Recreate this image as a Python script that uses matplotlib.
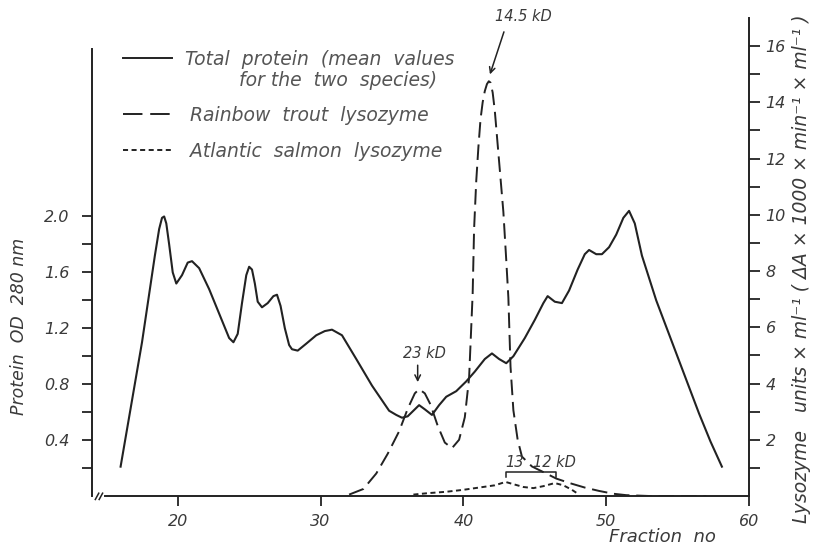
import matplotlib.pyplot as plt
from matplotlib.lines import Line2D


# total protein, OD 280 nm (left axis)
protein_fraction = [16.0, 17.5, 18.4, 18.7, 18.9, 19.05, 19.2, 19.4, 19.65, 19.9, 20.3,
                    20.7, 21.0, 21.5, 22.2, 23.0, 23.6, 23.9, 24.2, 24.5, 24.8, 25.0,
                    25.2, 25.4, 25.6, 25.9, 26.3, 26.7, 26.95, 27.2, 27.5, 27.8, 28.0,
                    28.4, 29.0, 29.7, 30.3, 30.8, 31.5, 32.5, 33.6, 34.8, 35.3, 35.7,
                    36.1, 36.5, 36.9, 37.3, 37.8, 38.3, 38.8, 39.5, 40.2, 40.8, 41.5,
                    42.0, 42.5, 43.0, 43.5, 44.3, 45.0, 45.6, 45.9, 46.4, 46.9, 47.4,
                    48.0, 48.5, 48.8, 49.3, 49.7, 50.2, 50.7, 51.2, 51.6, 52.0, 52.5,
                    53.5, 54.5, 55.5, 56.5, 57.3, 58.1]
protein_od = [0.21, 1.10, 1.72, 1.91, 1.99, 2.00, 1.95, 1.80, 1.60, 1.52, 1.58,
              1.67, 1.68, 1.63, 1.48, 1.28, 1.13, 1.10, 1.16, 1.38, 1.58, 1.64,
              1.62, 1.52, 1.39, 1.35, 1.38, 1.43, 1.44, 1.36, 1.20, 1.08, 1.05,
              1.04, 1.09, 1.15, 1.18, 1.19, 1.15, 0.98, 0.79, 0.61, 0.58, 0.56,
              0.57, 0.61, 0.65, 0.62, 0.58, 0.65, 0.71, 0.75, 0.82, 0.89, 0.98,
              1.02, 0.98, 0.95, 1.00, 1.13, 1.26, 1.38, 1.43, 1.39, 1.38, 1.47,
              1.62, 1.73, 1.76, 1.73, 1.73, 1.78, 1.87, 1.99, 2.04, 1.95, 1.72,
              1.40, 1.13, 0.86, 0.59, 0.39, 0.21]

# rainbow trout lysozyme (right axis)
trout_fraction = [32.0, 33.0, 33.9, 34.7, 35.5, 36.1, 36.6, 36.9, 37.3, 37.7, 38.2,
                  38.7, 39.2, 39.7, 40.1, 40.4, 40.65, 40.75, 40.9, 41.05, 41.2, 41.35,
                  41.5, 41.65, 41.78, 41.9, 42.05, 42.2, 42.5, 42.8, 43.0, 43.15, 43.3,
                  43.5, 43.8, 44.1, 44.8, 45.8, 46.5, 47.5, 48.5, 49.5, 50.5, 51.4,
                  53.0, 57.0]
trout_activity = [0.05, 0.25, 0.8, 1.5, 2.3, 3.1, 3.65, 3.8, 3.65, 3.25, 2.5,
                  1.9, 1.7, 2.0, 2.8, 4.2, 7.2, 9.5, 11.2, 12.4, 13.4, 14.0,
                  14.4, 14.65, 14.75, 14.7, 14.35, 13.7, 11.9, 10.1, 8.4, 7.05, 4.6,
                  3.05, 2.0, 1.4, 1.05, 0.8, 0.62, 0.45, 0.3, 0.18, 0.08, 0.03,
                  0.0, 0.0]

# atlantic salmon lysozyme (right axis)
salmon_fraction = [36.5, 37.5, 38.8, 40.0, 41.1, 42.2, 42.95, 43.5, 44.2, 44.9,
                   45.6, 46.4, 47.0, 47.6, 48.1]
salmon_activity = [0.05, 0.10, 0.15, 0.22, 0.30, 0.38, 0.50, 0.42, 0.32, 0.28,
                   0.35, 0.46, 0.38, 0.22, 0.05]

x_ticks = [20, 30, 40, 50, 60]
protein_ticks = [0.4, 0.8, 1.2, 1.6, 2.0]
protein_minor = [0.2, 0.6, 1.0, 1.4, 1.8]
lysozyme_ticks = [2, 4, 6, 8, 10, 12, 14, 16]
lysozyme_minor = [1, 3, 5, 7, 9, 11, 13, 15]

INK = "#222222"
TEXT = "#3a3a3a"
LEGEND_TEXT = "#555555"
TROUT_DASH = (8.0, 3.5)
SALMON_DASH = (2.6, 1.8)

plt.rcParams["font.family"] = "DejaVu Sans"
plt.rcParams["font.style"] = "italic"

fig = plt.figure(figsize=(8.18, 5.48), dpi=100)
ax = fig.add_axes([0.1125, 0.0949, 0.8032, 0.8723])
ax2 = ax.twinx()

ax.plot(protein_fraction, protein_od, color=INK, lw=1.5, solid_joinstyle="round")
ax2.plot(trout_fraction, trout_activity, color=INK, lw=1.4, dashes=TROUT_DASH)
ax2.plot(salmon_fraction, salmon_activity, color=INK, lw=1.4, dashes=SALMON_DASH)

ax.set_xlim(14, 60)
ax.set_ylim(0, 3.42)
ax2.set_ylim(0, 17)

for s in ["top", "right"]:
    ax.spines[s].set_visible(False)
for s in ["top", "left", "bottom"]:
    ax2.spines[s].set_visible(False)
ax.spines["left"].set_bounds(0, 3.2)
ax.spines["bottom"].set_bounds(14.9, 60)
ax2.spines["right"].set_bounds(0, 17)
for sp in [ax.spines["left"], ax.spines["bottom"], ax2.spines["right"]]:
    sp.set_color(INK)
    sp.set_linewidth(1.4)

ax.set_xticks(x_ticks)
ax.set_xticklabels([str(v) for v in x_ticks])
ax.set_yticks(protein_ticks)
ax.set_yticklabels([f"{v:.1f}" for v in protein_ticks])
ax.set_yticks(protein_minor, minor=True)
ax2.set_yticks(lysozyme_ticks)
ax2.set_yticklabels([str(v) for v in lysozyme_ticks])
ax2.set_yticks(lysozyme_minor, minor=True)

ax.tick_params(axis="x", direction="out", length=7, width=1.3, pad=6,
               labelsize=11.5, colors=INK, labelcolor=TEXT)
ax.tick_params(axis="y", which="both", direction="out", length=7, width=1.3,
               pad=9, labelsize=11.5, colors=INK, labelcolor=TEXT)
ax2.tick_params(axis="y", which="both", direction="out", length=8, width=1.3,
                pad=4, labelsize=11.5, colors=INK, labelcolor=TEXT)

ax.set_ylabel("Protein  OD  280 nm", fontsize=12.5, color=TEXT)
ax.yaxis.set_label_coords(-0.098, 0.354)
ax2.set_ylabel("Lysozyme   units × ml⁻¹ ( ΔA × 1000 × min⁻¹ × ml⁻¹ )",
               fontsize=13.5, color=TEXT, rotation=90)
ax2.yaxis.set_label_coords(1.066, 0.475)
ax.set_xlabel("Fraction  no", fontsize=13, color=TEXT)
ax.xaxis.set_label_coords(0.868, -0.066)

# axis break on the x axis
for bx in (14.35, 14.62):
    ax.plot([bx - 0.12, bx + 0.12], [-0.025, 0.02], color=INK, lw=1.1, clip_on=False)

# peak annotations (right axis units)
ax2.text(44.2, 17.05, "14.5 kD", ha="center", va="center", fontsize=10.5, color=TEXT)
ax2.annotate("", xy=(41.8, 14.9), xytext=(42.9, 16.6),
             arrowprops=dict(arrowstyle="->", color=INK, lw=1.1))
ax2.text(37.3, 5.07, "23 kD", ha="center", va="center", fontsize=10.5, color=TEXT)
ax2.annotate("", xy=(36.8, 3.95), xytext=(36.8, 4.75),
             arrowprops=dict(arrowstyle="->", color=INK, lw=1.1))
bracket_x = (42.95, 46.5)
bracket_y = (0.67, 0.85)
ax2.plot([bracket_x[0], bracket_x[0], bracket_x[1], bracket_x[1]],
         [bracket_y[0], bracket_y[1], bracket_y[1], bracket_y[0]], color=INK, lw=1.1)
ax2.text(43.6, 1.2, "13", ha="center", va="center", fontsize=10.5, color=TEXT)
ax2.text(46.4, 1.2, "12 kD", ha="center", va="center", fontsize=10.5, color=TEXT)

# legend drawn in figure pixels
W, H = 818, 548
legend_rows = [
    (58, dict(linestyle="-"), "Total  protein  (mean  values\n         for the  two  species)"),
    (114, dict(dashes=(10, 4)), "Rainbow  trout  lysozyme"),
    (150, dict(dashes=SALMON_DASH), "Atlantic  salmon  lysozyme"),
]
for ypx, style, label in legend_rows:
    fig.add_artist(Line2D([123 / W, 172 / W], [1 - ypx / H, 1 - ypx / H],
                          color=INK, lw=1.4, **style))
    tx = 185 if "Total" in label else 190
    fig.text(tx / W, 1 - (ypx - 8) / H, label, ha="left", va="top",
             fontsize=13.5, color=LEGEND_TEXT, linespacing=1.1)

fig.savefig("out.png", dpi=100)
